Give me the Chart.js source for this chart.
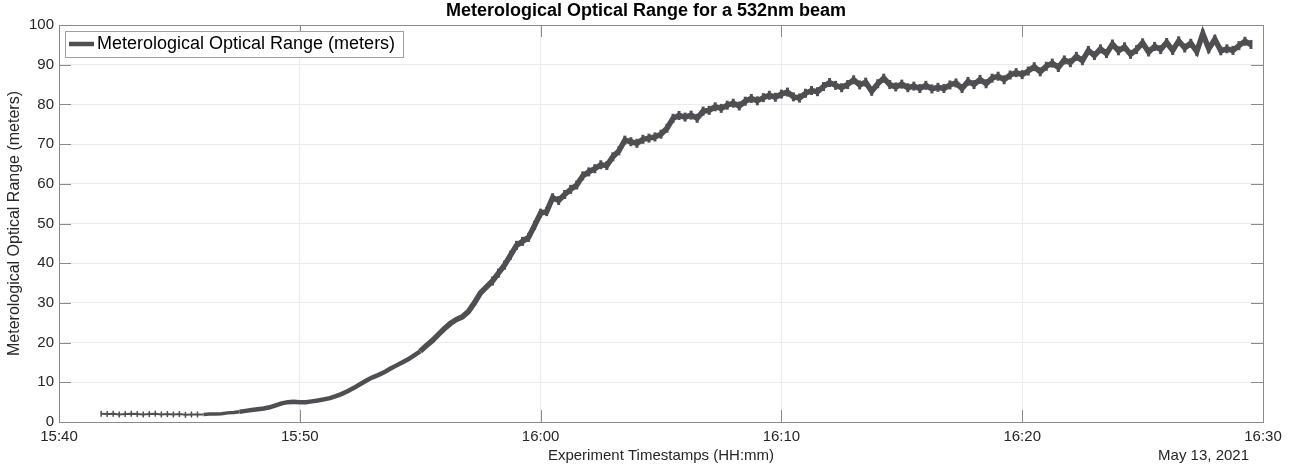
<!DOCTYPE html>
<html>
<head>
<meta charset="utf-8">
<script src="https://cdn.jsdelivr.net/npm/chart.js@4.4.0/dist/chart.umd.min.js"></script>
<style>
  html, body { margin: 0; padding: 0; background: #fff; }
  #wrap { width: 1292px; height: 467px; }
</style>
</head>
<body>
<div id="wrap"><canvas id="myChart" width="1292" height="467"></canvas></div>
<script>
// samples every 15 s starting 15:41:45
const sampleStart = '15:41:45';
const sampleStepSeconds = 15;

// Meterological Optical Range (meters)
const morValues = [
    2.1, 2.0, 2.1, 1.9, 2.0, 2.1, 2.0, 1.9, 2.0, 2.1, 1.9, 2.0, 1.9, 2.0, 1.8, 1.9,
    1.9, 1.9, 2.0, 2.0, 2.1, 2.3, 2.4, 2.6, 2.8, 3.0, 3.2, 3.4, 3.7, 4.2, 4.7, 5.0,
    5.1, 5.0, 5.0, 5.2, 5.4, 5.7, 6.0, 6.5, 7.1, 7.8, 8.6, 9.5, 10.4, 11.2, 11.8, 12.5,
    13.4, 14.2, 15.0, 15.8, 16.8, 17.8, 19.2, 20.5, 22.0, 23.5, 24.8, 25.8, 26.5, 27.8, 30.0, 32.5,
    34.0, 35.5, 37.5, 39.5, 42.0, 44.5, 45.5, 46.5, 49.5, 52.6, 53.0, 56.5, 55.8, 57.3, 58.6, 59.7,
    62.0, 63.0, 63.8, 64.8, 64.6, 66.8, 68.3, 71.0, 70.6, 70.2, 71.2, 71.5, 71.8, 72.5, 74.0, 76.5,
    77.2, 76.8, 77.3, 76.5, 78.3, 78.5, 79.4, 79.0, 79.8, 80.3, 79.6, 80.8, 81.5, 80.9, 81.7, 82.3,
    81.8, 82.6, 83.1, 81.9, 81.6, 82.8, 83.5, 83.2, 84.5, 85.5, 84.8, 84.2, 85.0, 86.2, 84.9, 85.6,
    83.3, 85.2, 86.6, 85.0, 84.4, 85.1, 84.2, 84.6, 84.0, 84.8, 83.9, 84.3, 84.0, 84.9, 85.4, 84.0,
    85.8, 85.0, 86.3, 85.2, 86.6, 87.1, 86.2, 87.4, 88.0, 87.5, 88.4, 89.5, 88.2, 89.6, 90.4, 89.3,
    91.2, 90.5, 92.1, 91.0, 93.6, 92.3, 94.0, 92.8, 95.2, 93.5, 94.5, 92.6, 93.8, 95.5, 93.2, 94.6,
    93.8, 95.6, 93.6, 96.0, 94.2, 95.4, 93.3, 97.8, 94.0, 96.4, 93.5, 94.0, 93.6, 94.8, 95.9, 95.1
];

const xTickLabels = ['15:40', '15:50', '16:00', '16:10', '16:20', '16:30'];
const yTickValues = [0, 10, 20, 30, 40, 50, 60, 70, 80, 90, 100];
const dateLabel = 'May 13, 2021';

function toMinutes(hhmm) {
    var p = hhmm.split(':');
    return (+p[0]) * 60 + (+p[1]) + (p[2] ? (+p[2]) / 60 : 0);
}

var startMin = toMinutes(sampleStart);
var points = morValues.map(function (v, i) {
    return { x: startMin + i * sampleStepSeconds / 60, y: v };
});
var xMin = toMinutes(xTickLabels[0]);
var xMax = toMinutes(xTickLabels[xTickLabels.length - 1]);

var FONT = 'Helvetica, Arial, "Liberation Sans", sans-serif';
var LINE = '#504e52';

// matlab style box, inward ticks, title, legend and date
const matlabFrame = {
    id: 'matlabFrame',
    afterDraw(chart) {
        const ctx = chart.ctx;
        const a = chart.chartArea;
        const xs = chart.scales.x, ys = chart.scales.y;
        ctx.save();
        ctx.strokeStyle = '#8a8a8a';
        ctx.lineWidth = 1;
        ctx.strokeRect(Math.round(a.left) + 0.5, Math.round(a.top) + 0.5,
            Math.round(a.right - a.left), Math.round(a.bottom - a.top));
        ctx.beginPath();
        xTickLabels.forEach(function (t) {
            var px = Math.round(xs.getPixelForValue(toMinutes(t))) + 0.5;
            ctx.moveTo(px, a.bottom); ctx.lineTo(px, a.bottom - 12);
            ctx.moveTo(px, a.top); ctx.lineTo(px, a.top + 12);
        });
        yTickValues.forEach(function (v) {
            var py = Math.round(ys.getPixelForValue(v)) + 0.5;
            ctx.moveTo(a.left, py); ctx.lineTo(a.left + 12, py);
            ctx.moveTo(a.right, py); ctx.lineTo(a.right - 12, py);
        });
        ctx.stroke();

        // title
        ctx.fillStyle = '#000';
        ctx.font = 'bold 18px ' + FONT;
        ctx.textAlign = 'center';
        ctx.textBaseline = 'middle';
        ctx.fillText('Meterological Optical Range for a 532nm beam', (a.left + a.right) / 2 - 15, 11);

        // date under the last tick
        ctx.fillStyle = '#262626';
        ctx.font = '15px ' + FONT;
        ctx.textAlign = 'right';
        ctx.fillText(dateLabel, a.right - 14, 456);

        // legend box
        ctx.fillStyle = '#fff';
        ctx.fillRect(65, 31, 338, 26);
        ctx.strokeStyle = '#a0a0a0';
        ctx.strokeRect(65.5, 31.5, 338, 26);
        ctx.strokeStyle = LINE;
        ctx.lineWidth = 4.5;
        ctx.beginPath();
        ctx.moveTo(69, 44); ctx.lineTo(94, 44);
        ctx.stroke();
        ctx.fillStyle = '#000';
        ctx.font = '18px ' + FONT;
        ctx.textAlign = 'left';
        ctx.fillText('Meterological Optical Range (meters)', 97, 44.5);
        ctx.restore();
    }
};

var ctx = document.getElementById('myChart');
var myChart = new Chart(ctx, {
    type: 'line',
    data: {
        datasets: [{
            label: 'Meterological Optical Range (meters)',
            data: points,
            borderColor: LINE,
            backgroundColor: LINE,
            borderWidth: 4,
            borderJoinStyle: 'miter',
            segment: {
                borderWidth: function (c) {
                    var x = c.p0.parsed.x;
                    if (x < 945.9) return 2;
                    if (x < 947.5) return 3.5;
                    if (x < 955) return 4.5;
                    return 5.5;
                }
            },
            pointStyle: 'line',
            rotation: 90,
            pointBorderColor: LINE,
            pointBorderWidth: function (c) {
                return (c.raw && c.raw.x < 945.9) ? 1.5 : 3;
            },
            pointRadius: function (c) {
                if (!c.raw) return 0;
                if (c.raw.x < 945.9) return 3;
                if (c.raw.x < 958) return 0;
                return 4.5;
            }
        }]
    },
    options: {
        responsive: false,
        animation: false,
        layout: { padding: { left: 0, top: 25, right: 29, bottom: 0 } },
        plugins: {
            legend: { display: false },
            title: { display: false },
            tooltip: { enabled: false }
        },
        scales: {
            x: {
                type: 'linear',
                min: xMin,
                max: xMax,
                afterFit: function (s) { s.height = 45; },
                afterBuildTicks: function (s) {
                    s.ticks = xTickLabels.map(function (t) { return { value: toMinutes(t) }; });
                },
                ticks: {
                    padding: 6,
                    maxRotation: 0,
                    color: '#262626',
                    font: { family: FONT, size: 15 },
                    callback: function (v) {
                        var h = Math.floor(v / 60), m = Math.round(v % 60);
                        return h + ':' + (m < 10 ? '0' + m : m);
                    }
                },
                grid: { color: '#ebebeb', drawTicks: false },
                border: { display: false },
                title: {
                    display: true,
                    text: 'Experiment Timestamps (HH:mm)',
                    color: '#262626',
                    font: { family: FONT, size: 15 },
                    padding: { top: 0, bottom: 2 }
                }
            },
            y: {
                min: 0,
                max: 100,
                afterFit: function (s) { s.width = 59; },
                afterBuildTicks: function (s) {
                    s.ticks = yTickValues.map(function (v) { return { value: v }; });
                },
                ticks: {
                    padding: 5,
                    color: '#262626',
                    font: { family: FONT, size: 15 }
                },
                grid: { color: '#ebebeb', drawTicks: false },
                border: { display: false },
                title: {
                    display: true,
                    text: 'Meterological Optical Range (meters)',
                    color: '#262626',
                    font: { family: FONT, size: 16 },
                    padding: { top: 5, bottom: 0 }
                }
            }
        }
    },
    plugins: [matlabFrame]
});
</script>
</body>
</html>
